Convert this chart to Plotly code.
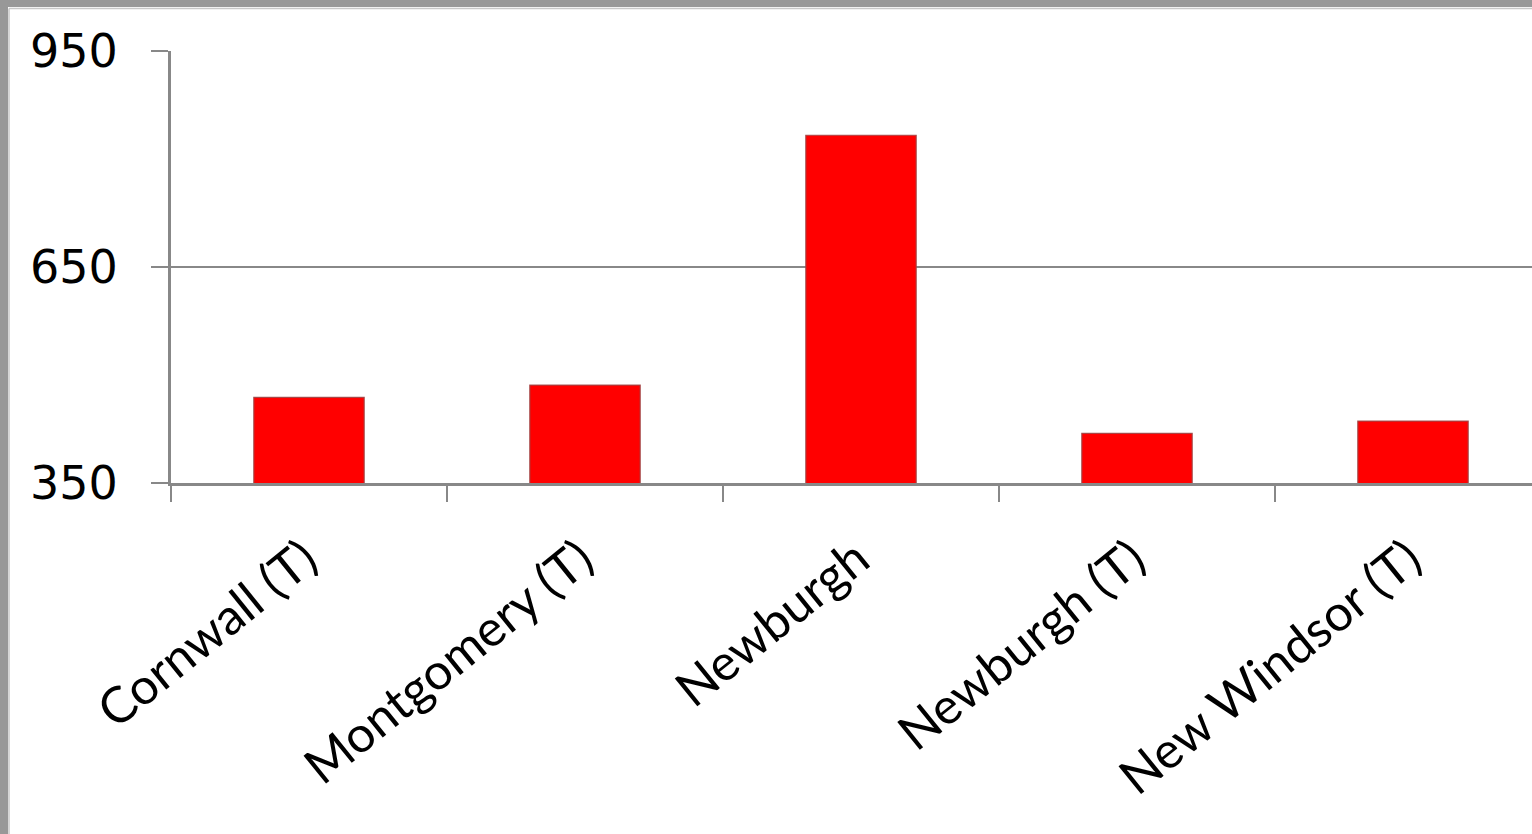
import plotly.graph_objects as go

categories = ["Cornwall (T)", "Montgomery (T)", "Newburgh", "Newburgh (T)", "New Windsor (T)"]
values = [469, 486, 833, 419, 436]
y_ticks = [350, 650, 950]

W, H = 1532, 834
L, R, T, B = 171, 0, 51, 351
pw = W - L - R
ph = H - T - B
cat_px = 276.0
span = pw / cat_px

def px_x(px):
    return (px - L) / pw

def px_y(py):
    return (H - B - py) / ph

fig = go.Figure()
fig.add_trace(go.Bar(
    x=categories, y=values, width=0.4,
    marker=dict(color="#ff0000", line=dict(color="rgba(160,70,70,0.9)", width=1.2)),
))

shapes = [
    dict(type="rect", xref="paper", yref="paper", x0=px_x(-5), x1=px_x(W + 5), y0=px_y(7), y1=px_y(-5),
         fillcolor="#989898", line=dict(width=0), layer="above"),
    dict(type="rect", xref="paper", yref="paper", x0=px_x(-5), x1=px_x(8), y0=px_y(H + 5), y1=px_y(-5),
         fillcolor="#989898", line=dict(width=0), layer="above"),
    dict(type="line", xref="paper", yref="paper", x0=px_x(9), x1=px_x(W + 5), y0=px_y(8.5), y1=px_y(8.5),
         line=dict(color="#c8c8c8", width=1.5), layer="above"),
    dict(type="line", xref="paper", yref="paper", x0=px_x(9), x1=px_x(9), y0=px_y(8.5), y1=px_y(H + 5),
         line=dict(color="#c8c8c8", width=1.5), layer="above"),
]

fig.update_layout(
    width=W, height=H,
    margin=dict(l=L, r=R, t=T, b=B, pad=0),
    paper_bgcolor="white", plot_bgcolor="white",
    showlegend=False,
    bargap=0.6,
    shapes=shapes,
    xaxis=dict(
        type="category", range=[-0.5, -0.5 + span],
        tickson="boundaries", ticks="outside", ticklen=16, tickwidth=2, tickcolor="#888888",
        showline=True, linecolor="#888888", linewidth=3,
        showgrid=False, tickangle=-39,
        ticklabelstandoff=24, ticklabelshift=-4,
        tickfont=dict(family="Lato", size=50, color="black"),
    ),
    yaxis=dict(
        range=[350, 950], tickvals=y_ticks, ticktext=[str(v) for v in y_ticks],
        ticks="outside", ticklen=17, tickwidth=2, tickcolor="#888888",
        showline=True, linecolor="#888888", linewidth=3,
        showgrid=True, gridcolor="#888888", gridwidth=2,
        zeroline=False,
        ticklabelstandoff=24,
        tickfont=dict(family="DejaVu Sans", size=46, color="black"),
    ),
)

fig.write_html(
    "out.html",
    config={"displayModeBar": False},
    post_script="document.body.style.margin='0px';document.body.style.overflow='hidden';",
)
